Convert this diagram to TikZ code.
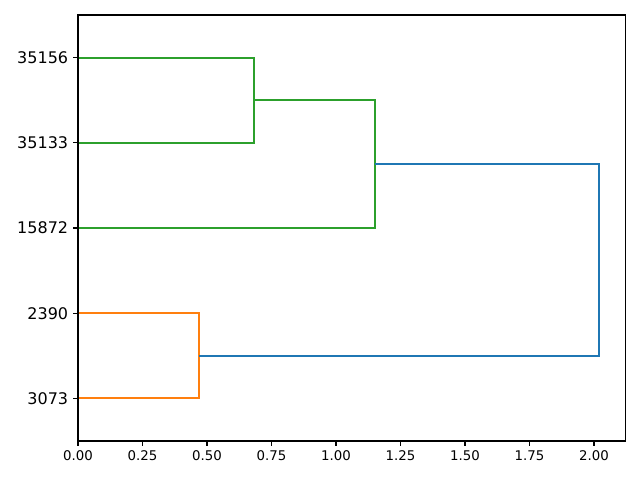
\documentclass[tikz,border=0pt]{standalone}
\usepackage{fontspec}
\setmainfont{DejaVu Sans}
\usetikzlibrary{positioning}

\definecolor{tabblue}{HTML}{1F77B4}
\definecolor{taborange}{HTML}{FF7F0E}
\definecolor{tabgreen}{HTML}{2CA02C}

\begin{document}
\begin{tikzpicture}[
  x=0.75pt, y=-0.75pt,
  link/.style={line width=1.55pt},
  spine/.style={line width=0.8pt, black},
  leaflabel/.style={anchor=east, inner sep=0pt, font=\fontsize{12}{14}\selectfont},
  ticklabel/.style={anchor=north, inner sep=0pt, font=\fontsize{10}{12}\selectfont},
]
  \useasboundingbox (0,0) rectangle (640,480);

  \begin{scope}[shift={(78,441)}, x=193.5pt, y=6.39pt]
  % Leaves
  \coordinate (l35156) at (0,45);
  \coordinate (l35133) at (0,35);
  \coordinate (l15872) at (0,25);
  \coordinate (l2390) at (0,15);
  \coordinate (l3073) at (0,5);

  % Merge points
  \coordinate (m1) at (0.682,40);
  \coordinate (m2) at (1.151,32.5);
  \coordinate (m3) at (0.469,10);
  \coordinate (m4) at (2.019,21.25);

  % Clusters
  \draw[link, tabgreen] (l35156) -| (m1) |- (l35133);
  \draw[link, tabgreen] (m1) -| (m2) |- (l15872);
  \draw[link, taborange] (l2390) -| (m3) |- (l3073);
  \draw[link, tabblue] (m2) -| (m4) |- (m3);

  % Frame
  \draw[spine] (0,0) rectangle (2.121,50);

  % Leaf labels
  \draw[spine] (l35156) -- ++(-3.5pt,0) node[leaflabel, xshift=-3.5pt] (t35156) {35156};
  \draw[spine] (l35133) -- ++(-3.5pt,0) node[leaflabel, xshift=-3.5pt] (t35133) {35133};
  \draw[spine] (l15872) -- ++(-3.5pt,0) node[leaflabel, xshift=-3.5pt] (t15872) {15872};
  \draw[spine] (l2390) -- ++(-3.5pt,0) node[leaflabel, xshift=-3.5pt] (t2390) {2390};
  \draw[spine] (l3073) -- ++(-3.5pt,0) node[leaflabel, xshift=-3.5pt] (t3073) {3073};

  % Distance axis
  \foreach \v [count=\i] in {0.00,0.25,0.50,0.75,1.00,1.25,1.50,1.75,2.00}
    \draw[spine] (\v,0) -- ++(0,-3.5pt) node[ticklabel, yshift=-3.5pt] (xt\i) {\v};
  \end{scope}
\end{tikzpicture}
\end{document}
